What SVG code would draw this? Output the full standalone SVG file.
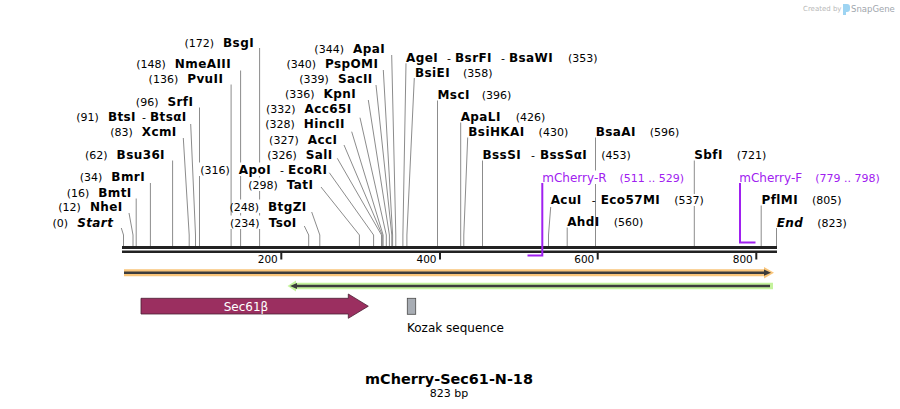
<svg xmlns="http://www.w3.org/2000/svg" width="900" height="409" viewBox="0 0 900 409">
<style>
text{font-family:"DejaVu Sans",Verdana,sans-serif;fill:#000}
.n{font-size:12px;font-weight:bold;letter-spacing:0.4px}
.d{font-size:11px;font-weight:normal;letter-spacing:0}
.i{font-style:italic}
.ln{fill:none;stroke:#8c8c8c;stroke-width:1}
.pl{fill:none;stroke:#a020f0;stroke-width:2}
.pt{fill:#a020f0;font-size:12px}
.tk{font-size:10.5px}
</style>
<rect width="900" height="409" fill="#fff"/>

<g id="logo">
<text x="803" y="11" style="font-size:7px;fill:#b8b8b8">Created by</text>
<path d="M843,4 h4 q3,0 3,3 v2 q0,3 -3,3 h-1 v3 h-3 z" fill="#9ed4f2"/>
<text x="851" y="12" style="font-size:8.5px;fill:#a0a6ad">SnapGene</text>
</g>

<g id="connectors">
<path class="ln" d="M259.6,48 V162.5 M259.6,176 V177.5 M259.6,191 V199.5 M259.6,213 V215.5 M259.6,229 V246"/>
<path class="ln" d="M240.6,70.5 V162.5 M240.6,176 V199.5 M240.6,213 V215.5 M240.6,229 V246"/>
<path class="ln" d="M231.1,84.5 V215.5 M231.1,229 V246"/>
<path class="ln" d="M199.5,107.5 V162.5 M199.5,176 V246"/>
<path class="ln" d="M190.7,124 L195.5,235 V246"/>
<path class="ln" d="M183.3,138 L189.2,235 V246"/>
<path class="ln" d="M172.6,160.5 V246"/>
<path class="ln" d="M150.4,183 V246"/>
<path class="ln" d="M136.2,198.5 V246"/>
<path class="ln" d="M129,213 L133,235 V246"/>
<path class="ln" d="M121.3,228 L123.5,235 V246"/>
<path class="ln" d="M304.3,226 L308.7,235 V246"/>
<path class="ln" d="M311.7,212 L319.8,235 V246"/>
<path class="ln" d="M321,187 L359.4,235 V246"/>
<path class="ln" d="M329.3,172.7 L373.6,235 V246"/>
<path class="ln" d="M337.3,158.3 L381.5,235 V246"/>
<path class="ln" d="M344,145 L382.3,235 V246"/>
<path class="ln" d="M351.7,131.7 L383.1,235 V246"/>
<path class="ln" d="M360,117.7 L386.3,235 V246"/>
<path class="ln" d="M368.3,100 L389.4,235 V246"/>
<path class="ln" d="M376,85 L391.8,235 V246"/>
<path class="ln" d="M383.3,70 L392.6,235 V246"/>
<path class="ln" d="M391.7,55 L395.8,235 V246"/>
<path class="ln" d="M406,63.3 L402.9,235 V246"/>
<path class="ln" d="M414.3,78 L406.9,235 V246"/>
<path class="ln" d="M437.5,100.5 V246"/>
<path class="ln" d="M460.7,122.5 V246"/>
<path class="ln" d="M467.7,137.5 L463.8,235 V246"/>
<path class="ln" d="M482.5,160.5 V246"/>
<path class="ln" d="M550.7,207 L548.5,235 V246"/>
<path class="ln" d="M567.2,227.5 V246"/>
<path class="ln" d="M595.5,137.5 V170.5 M595.5,184 V246"/>
<path class="ln" d="M694.3,160.5 V194 M694.3,206 V246"/>
<path class="ln" d="M761.2,205.5 V246"/>
<path class="ln" d="M776.5,228 V246"/>
</g>

<g id="backbone">
<rect x="122" y="246" width="655" height="3" fill="#222"/>
<rect x="122" y="250.5" width="655" height="2.5" fill="#222"/>
<rect x="280.3" y="253" width="2" height="6.5" fill="#222"/>
<rect x="439" y="253" width="2" height="6.5" fill="#222"/>
<rect x="596.7" y="253" width="2" height="6.5" fill="#222"/>
<rect x="755.3" y="253" width="2" height="6.5" fill="#222"/>
<text class="tk" x="277.8" y="263" text-anchor="end">200</text>
<text class="tk" x="436.5" y="263" text-anchor="end">400</text>
<text class="tk" x="594.3" y="263" text-anchor="end">600</text>
<text class="tk" x="752.8" y="263" text-anchor="end">800</text>
</g>

<g id="BsgI"><text x="254" y="46.5" text-anchor="end"><tspan class="d">(172)</tspan><tspan class="n" dx="9">BsgI</tspan></text></g>
<g id="NmeAIII"><text x="231" y="67.5" text-anchor="end"><tspan class="d">(148)</tspan><tspan class="n" dx="9">NmeAIII</tspan></text></g>
<g id="PvuII"><text x="223.3" y="82.5" text-anchor="end"><tspan class="d">(136)</tspan><tspan class="n" dx="9">PvuII</tspan></text></g>
<g id="SrfI"><text x="193.3" y="105.5" text-anchor="end"><tspan class="d">(96)</tspan><tspan class="n" dx="9">SrfI</tspan></text></g>
<g id="BtsI"><text x="186.7" y="120.5" text-anchor="end"><tspan class="d">(91)</tspan><tspan class="n" dx="9">BtsI</tspan><tspan class="d" dx="6">-</tspan><tspan class="n" dx="4">BtsαI</tspan></text></g>
<g id="XcmI"><text x="176.7" y="135.5" text-anchor="end"><tspan class="d">(83)</tspan><tspan class="n" dx="9">XcmI</tspan></text></g>
<g id="Bsu36I"><text x="165" y="158.5" text-anchor="end"><tspan class="d">(62)</tspan><tspan class="n" dx="9">Bsu36I</tspan></text></g>
<g id="BmrI"><text x="145" y="181" text-anchor="end"><tspan class="d">(34)</tspan><tspan class="n" dx="9">BmrI</tspan></text></g>
<g id="BmtI"><text x="131.7" y="196.5" text-anchor="end"><tspan class="d">(16)</tspan><tspan class="n" dx="9">BmtI</tspan></text></g>
<g id="NheI"><text x="122.7" y="211" text-anchor="end"><tspan class="d">(12)</tspan><tspan class="n" dx="9">NheI</tspan></text></g>
<g id="Start"><text x="113.3" y="226.5" text-anchor="end"><tspan class="d">(0)</tspan><tspan class="n i" dx="9">Start</tspan></text></g>
<g id="TsoI"><text x="296.7" y="226.5" text-anchor="end"><tspan class="d">(234)</tspan><tspan class="n" dx="9">TsoI</tspan></text></g>
<g id="BtgZI"><text x="306.7" y="210.5" text-anchor="end"><tspan class="d">(248)</tspan><tspan class="n" dx="9">BtgZI</tspan></text></g>
<g id="TatI"><text x="313.3" y="188.5" text-anchor="end"><tspan class="d">(298)</tspan><tspan class="n" dx="9">TatI</tspan></text></g>
<g id="ApoI"><text x="327.3" y="173.5" text-anchor="end"><tspan class="d">(316)</tspan><tspan class="n" dx="9">ApoI</tspan><tspan class="d" dx="9">-</tspan><tspan class="n" dx="4">EcoRI</tspan></text></g>
<g id="SalI"><text x="332.7" y="158.5" text-anchor="end"><tspan class="d">(326)</tspan><tspan class="n" dx="9">SalI</tspan></text></g>
<g id="AccI"><text x="337.3" y="143.5" text-anchor="end"><tspan class="d">(327)</tspan><tspan class="n" dx="9">AccI</tspan></text></g>
<g id="HincII"><text x="345" y="127.5" text-anchor="end"><tspan class="d">(328)</tspan><tspan class="n" dx="9">HincII</tspan></text></g>
<g id="Acc65I"><text x="351.7" y="112.5" text-anchor="end"><tspan class="d">(332)</tspan><tspan class="n" dx="9">Acc65I</tspan></text></g>
<g id="KpnI"><text x="356" y="97.5" text-anchor="end"><tspan class="d">(336)</tspan><tspan class="n" dx="9">KpnI</tspan></text></g>
<g id="SacII"><text x="372.7" y="82.5" text-anchor="end"><tspan class="d">(339)</tspan><tspan class="n" dx="9">SacII</tspan></text></g>
<g id="PspOMI"><text x="378.3" y="67.5" text-anchor="end"><tspan class="d">(340)</tspan><tspan class="n" dx="9">PspOMI</tspan></text></g>
<g id="ApaI"><text x="385" y="52.5" text-anchor="end"><tspan class="d">(344)</tspan><tspan class="n" dx="9">ApaI</tspan></text></g>

<g id="AgeI"><text x="406" y="61.5"><tspan class="n">AgeI</tspan><tspan class="d" dx="9">-</tspan><tspan class="n" dx="4">BsrFI</tspan><tspan class="d" dx="9">-</tspan><tspan class="n" dx="4">BsaWI</tspan><tspan class="d" dx="15">(353)</tspan></text></g>
<g id="BsiEI"><text x="415" y="76.5"><tspan class="n">BsiEI</tspan><tspan class="d" dx="13">(358)</tspan></text></g>
<g id="MscI"><text x="437.5" y="98.5"><tspan class="n">MscI</tspan><tspan class="d" dx="12">(396)</tspan></text></g>
<g id="ApaLI"><text x="460.7" y="120.5"><tspan class="n">ApaLI</tspan><tspan class="d" dx="15">(426)</tspan></text></g>
<g id="BsiHKAI"><text x="468.3" y="135.5"><tspan class="n">BsiHKAI</tspan><tspan class="d" dx="14">(430)</tspan></text></g>
<g id="BssSI"><text x="482.5" y="158.5"><tspan class="n">BssSI</tspan><tspan class="d" dx="10">-</tspan><tspan class="n" dx="5">BssSαI</tspan><tspan class="d" dx="14">(453)</tspan></text></g>
<g id="AcuI"><text x="550.7" y="203.5"><tspan class="n">AcuI</tspan><tspan class="d" dx="10">-</tspan><tspan class="n" dx="5">Eco57MI</tspan><tspan class="d" dx="14">(537)</tspan></text></g>
<g id="AhdI"><text x="567.2" y="225.5"><tspan class="n">AhdI</tspan><tspan class="d" dx="14">(560)</tspan></text></g>
<g id="BsaAI"><text x="595.7" y="135.5"><tspan class="n">BsaAI</tspan><tspan class="d" dx="14">(596)</tspan></text></g>
<g id="SbfI"><text x="694.3" y="158.5"><tspan class="n">SbfI</tspan><tspan class="d" dx="14">(721)</tspan></text></g>
<g id="PflMI"><text x="761.5" y="203.5"><tspan class="n">PflMI</tspan><tspan class="d" dx="14">(805)</tspan></text></g>
<g id="End"><text x="776.7" y="226.5"><tspan class="n i">End</tspan><tspan class="d" dx="14">(823)</tspan></text></g>

<g id="mCherry-R">
<path class="pl" d="M542.3,183 V255.5 H527.5"/>
<text class="pt" x="542.3" y="181.5">mCherry-R<tspan dx="13" style="font-size:11px">(511 .. 529)</tspan></text>
</g>
<g id="mCherry-F">
<path class="pl" d="M740,183 V242.5 H755.5"/>
<text class="pt" x="739.3" y="181.5">mCherry-F<tspan dx="13" style="font-size:11px">(779 .. 798)</tspan></text>
</g>

<g id="orange-feature">
<path d="M124,272.7 H766" stroke="#f9c57a" stroke-width="7" fill="none"/>
<polygon points="764,267 774,272.7 764,278.4" fill="#f9c57a"/>
<path d="M124,272.7 H765" stroke="#3c3c3c" stroke-width="2.6" fill="none"/>
<polygon points="764,269.6 771,272.7 764,275.8" fill="#3c3c3c"/>
</g>
<g id="green-feature">
<path d="M295,286 H773" stroke="#c4f29c" stroke-width="6.6" fill="none"/>
<polygon points="296,280.6 287.5,286 296,291.4" fill="#c4f29c"/>
<path d="M296,286 H770" stroke="#3c3c3c" stroke-width="2.6" fill="none"/>
<polygon points="297,282.9 290,286 297,289.1" fill="#3c3c3c"/>
</g>

<g id="Sec61b">
<polygon points="141,298.3 348.3,298.3 348.3,294 368.3,306.2 348.3,318.3 348.3,314 141,314" fill="#9b2f60" stroke="#4a1f33" stroke-width="0.8"/>
<text x="246" y="310.5" text-anchor="middle" style="font-size:12px;fill:#fff">Sec61β</text>
</g>
<g id="Kozak">
<rect x="407.3" y="298.3" width="8.4" height="16" fill="#a8adb4" stroke="#4a4a4a" stroke-width="0.8"/>
<text x="407" y="331.5" style="font-size:12px">Kozak sequence</text>
</g>

<g id="title">
<text x="449" y="383.5" text-anchor="middle" style="font-size:14.4px;font-weight:bold">mCherry-Sec61-N-18</text>
<text x="449" y="397" text-anchor="middle" style="font-size:11px">823 bp</text>
</g>
</svg>
